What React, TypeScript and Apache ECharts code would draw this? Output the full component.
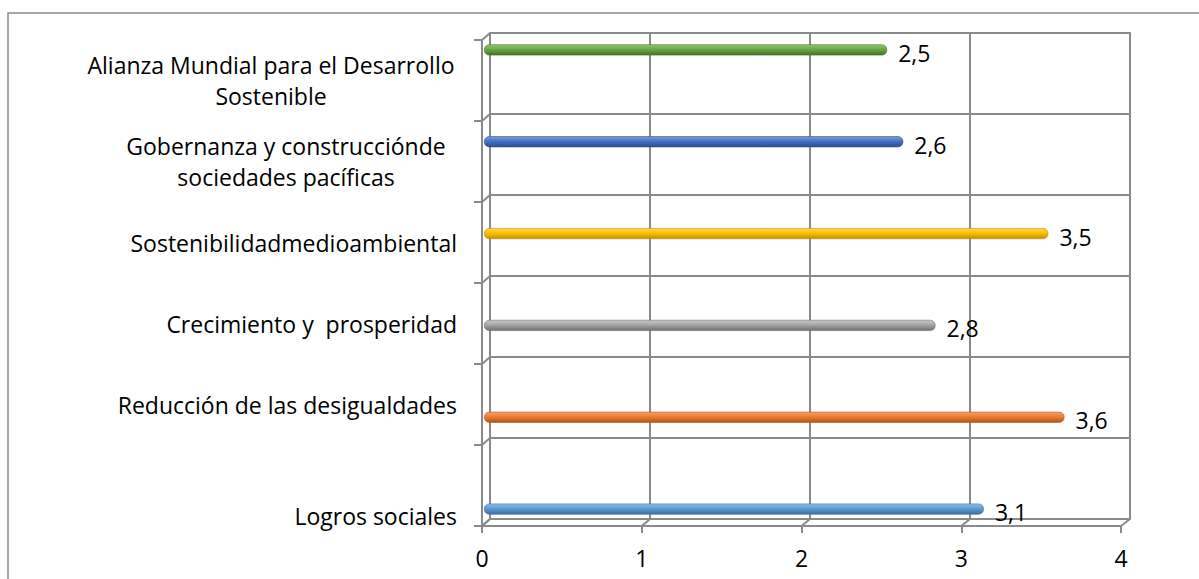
import React, { useEffect, useRef } from 'react';
import * as echarts from 'echarts';

// ---- data ----
const categories = [
  'Logros sociales',
  'Reducción de las desigualdades',
  'Crecimiento y  prosperidad',
  'Sostenibilidadmedioambiental',
  'Gobernanza y construcciónde\nsociedades pacíficas',
  'Alianza Mundial para el Desarrollo\nSostenible',
];
const values = [3.1, 3.6, 2.8, 3.5, 2.6, 2.5];
const xMin = 0;
const xMax = 4;
const xStep = 1;

// ---- styles ----
const barColors = [
  ['#8fbde6', '#5b9bd5', '#3d6f9f'],
  ['#f5a46c', '#ed7d31', '#b2561a'],
  ['#c9c9c9', '#a5a5a5', '#6f6f6f'],
  ['#ffd652', '#ffc000', '#c08f00'],
  ['#7c9fe0', '#4472c4', '#2b4f8f'],
  ['#95c970', '#6aa843', '#41722a'],
];
const labelKeys = ['low', 'r', 'r', 'r', 'w2', 'w1'];
const FONT = '"Open Sans", "Noto Sans", sans-serif';
const FS = 23;
const LINE = '#8a8a8a';

const FRONT = { left: 482, top: 40, width: 639, height: 486 };
const BACK = { left: 490, top: 33, width: 640, height: 486 };
const BARS = { left: 484, top: 4, width: 645, height: 551 };

export default function App() {
  const ref = useRef<HTMLDivElement>(null);
  useEffect(() => {
    if (!ref.current) return;
    const chart = echarts.init(ref.current, undefined, { renderer: 'svg' });

    const diagonals: any[] = [];
    const n = categories.length;
    for (let i = 0; i <= n; i++) {
      diagonals.push({
        type: 'line',
        shape: {
          x1: FRONT.left,
          y1: FRONT.top + (i * FRONT.height) / n,
          x2: BACK.left,
          y2: BACK.top + (i * BACK.height) / n,
        },
        style: { stroke: LINE, lineWidth: 2 },
        z: 5,
      });
    }
    const steps = (xMax - xMin) / xStep;
    for (let j = 0; j <= steps; j++) {
      diagonals.push({
        type: 'line',
        shape: {
          x1: FRONT.left + (j * FRONT.width) / steps,
          y1: FRONT.top + FRONT.height,
          x2: BACK.left + (j * BACK.width) / steps,
          y2: BACK.top + BACK.height,
        },
        style: { stroke: LINE, lineWidth: 2 },
        z: 5,
      });
    }

    const txt = { fontSize: FS, fontFamily: FONT, color: '#000' };

    const option: any = {
      animation: false,
      backgroundColor: '#fff',
      graphic: [
        {
          type: 'rect',
          shape: { x: 8, y: 13, width: 1400, height: 800 },
          style: { fill: 'none', stroke: '#8c8c8c', lineWidth: 1.5 },
          z: 10,
        },
        ...diagonals,
      ],
      grid: [
        { ...BACK, show: true, borderColor: LINE, borderWidth: 2, backgroundColor: 'transparent' },
        { ...FRONT, show: false },
        { ...BARS, show: false },
      ],
      xAxis: [
        {
          gridIndex: 0,
          type: 'value',
          min: xMin,
          max: xMax,
          interval: xStep,
          axisLine: { show: false },
          axisTick: { show: false },
          axisLabel: { show: false },
          splitLine: { show: true, lineStyle: { color: LINE, width: 2 } },
        },
        {
          gridIndex: 1,
          type: 'value',
          min: xMin,
          max: xMax,
          interval: xStep,
          axisLine: { show: true, lineStyle: { color: LINE, width: 2 } },
          axisTick: { show: true, length: 7, lineStyle: { color: LINE, width: 2 } },
          axisLabel: { ...txt, margin: 20 },
          splitLine: { show: false },
        },
        {
          gridIndex: 2,
          type: 'value',
          min: xMin,
          max: xMax,
          interval: xStep,
          show: false,
        },
      ],
      yAxis: [
        {
          gridIndex: 0,
          type: 'category',
          data: categories,
          axisLine: { show: false },
          axisTick: { show: false },
          axisLabel: { show: false },
          splitLine: { show: true, lineStyle: { color: LINE, width: 2 } },
        },
        {
          gridIndex: 1,
          type: 'category',
          data: categories,
          axisLine: { show: true, lineStyle: { color: LINE, width: 2 } },
          axisTick: { show: true, length: 8, lineStyle: { color: LINE, width: 2 } },
          splitLine: { show: false },
          axisLabel: {
            ...txt,
            margin: 25,
            formatter: (value: string, index: number) => {
              const key = labelKeys[index];
              return value
                .split('\n')
                .map((l) => `{${key}|${l}}`)
                .join('\n');
            },
            rich: {
              r: { ...txt },
              low: { ...txt, padding: [60, 0, 0, 0] },
              w1: { ...txt, width: 372, align: 'center', lineHeight: 31 },
              w2: { ...txt, width: 318, align: 'center', lineHeight: 31, padding: [0, 12, 0, 0] },
            },
          },
        },
        {
          gridIndex: 2,
          type: 'category',
          data: categories,
          show: false,
        },
      ],
      series: [
        {
          type: 'bar',
          xAxisIndex: 2,
          yAxisIndex: 2,
          barWidth: 11,
          z: 3,
          data: values.map((v, i) => ({
            value: v,
            itemStyle: {
              borderRadius: 5,
              borderColor: barColors[i][2],
              borderWidth: 0.6,
              color: new echarts.graphic.LinearGradient(0, 0, 0, 1, [
                { offset: 0, color: barColors[i][0] },
                { offset: 0.45, color: barColors[i][1] },
                { offset: 1, color: barColors[i][2] },
              ]),
            },
          })),
          label: {
            show: true,
            position: 'right',
            distance: 11,
            offset: [0, 3],
            ...txt,
            formatter: (p: any) => String(p.value).replace('.', ','),
          },
        },
      ],
    };
    chart.setOption(option);
    return () => chart.dispose();
  }, []);
  return (
    <div
      ref={ref}
      style={{ position: 'absolute', left: 0, top: 0, width: 1199, height: 579 }}
    />
  );
}
